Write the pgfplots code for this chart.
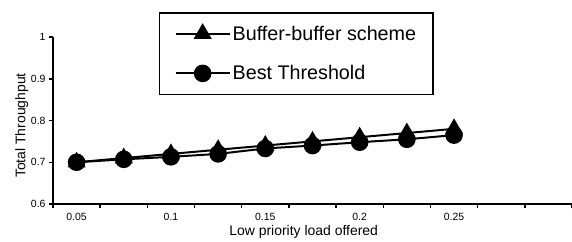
\documentclass[border=0pt]{standalone}
\usepackage{pgfplots}
\pgfplotsset{compat=1.18}
\usepackage{fontspec}
\setmainfont{Liberation Sans}
\begin{document}
\begin{tikzpicture}
\begin{axis}[
  at={(0,0)}, anchor=south west,
  scale only axis, width=519bp, height=167bp,
  xmin=-0.5, xmax=10.5, ymin=0.6, ymax=1,
  axis x line=bottom, axis y line=left,
  axis line style={-, line width=2pt},
  xtick={0,2,4,6,8},
  xticklabels={0.05,0.1,0.15,0.2,0.25},
  minor xtick={-0.5,0.5,...,10.5},
  major x tick style={draw=none},
  minor tick length=4bp,
  major tick length=4bp,
  tick align=outside,
  tick style={line width=1.5pt, black},
  ytick={0.6,0.7,0.8,0.9,1},
  yticklabels={0.6,0.7,0.8,0.9,1},
  /pgf/number format/assume math mode=true,
  ticklabel style={font=\fontsize{10.5}{12}\selectfont},
  xticklabel style={yshift=-2bp},
  xlabel={Low priority load offered},
  ylabel={Total Throughput},
  label style={font=\fontsize{14}{16}\selectfont},
  xlabel style={at={(axis description cs:0.483,0)}, anchor=center, yshift=-28bp},
  ylabel style={at={(axis description cs:-0.06,0.47)}, anchor=center},
  legend style={at={(axis description cs:0.204,1.15)}, anchor=north west,
    draw=black, line width=1.6pt, font=\fontsize{19.8}{23}\selectfont,
    inner xsep=15bp, inner ysep=11bp, row sep=20bp},
  legend cell align=left,
  legend image code/.code={\draw[#1, mark repeat=2, mark phase=2] plot coordinates {(0bp,0bp) (27bp,0bp) (54bp,0bp)};},
  clip=false,
]
\addplot[black, line width=2pt, mark=triangle*, mark size=8.5bp, mark options={solid}] coordinates {
 (0,0.70) (1,0.71) (2,0.72) (3,0.73) (4,0.74) (5,0.75) (6,0.76) (7,0.77) (8,0.78)};
\addlegendentry{Buffer-buffer scheme}
\addplot[black, line width=2pt, mark=*, mark size=7.8bp, mark options={solid}] coordinates {
 (0,0.70) (1,0.707) (2,0.713) (3,0.72) (4,0.733) (5,0.74) (6,0.748) (7,0.755) (8,0.765)};
\addlegendentry{Best Threshold}
\end{axis}
\pgfresetboundingbox
\path[use as bounding box] (-53bp,-38bp) rectangle (519bp,204bp);
\end{tikzpicture}
\end{document}
